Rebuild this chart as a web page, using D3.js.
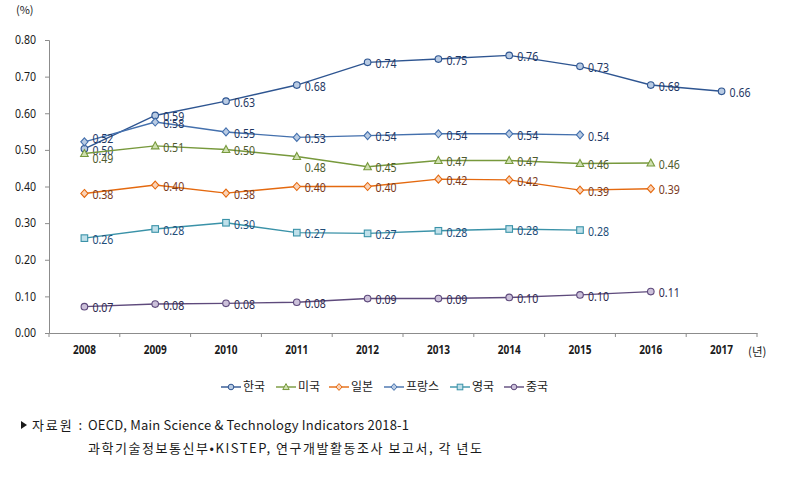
<!DOCTYPE html>
<html><head><meta charset="utf-8">
<script src="https://cdn.jsdelivr.net/npm/d3@7"></script>
<style>
body{margin:0;background:#fff;}
svg{display:block;font-family:"Noto Sans CJK KR","Noto Sans",sans-serif;}
</style></head>
<body><svg id="c" width="791" height="483"></svg>
<script>
const years = ["2008","2009","2010","2011","2012","2013","2014","2015","2016","2017"];
const yTicks = [0,0.1,0.2,0.3,0.4,0.5,0.6,0.7,0.8];
const seriesNames = ["한국","미국","일본","프랑스","영국","중국"];
const korea  = [0.503,0.594,0.633,0.677,0.739,0.748,0.758,0.728,0.677,0.660];
const usa    = [0.490,0.511,0.501,0.482,0.454,0.471,0.471,0.463,0.464,null];
const japan  = [0.381,0.404,0.382,0.400,0.400,0.420,0.418,0.390,0.394,null];
const france = [0.522,0.576,0.549,0.534,0.539,0.544,0.544,0.541,null,null];
const uk     = [0.259,0.284,0.301,0.274,0.272,0.279,0.284,0.281,null,null];
const china  = [0.072,0.079,0.081,0.084,0.094,0.094,0.097,0.104,0.113,null];
const sourceLabel = "자료원 :";
const sourceLines = ["OECD, Main Science & Technology Indicators 2018-1","과학기술정보통신부•KISTEP, 연구개발활동조사 보고서, 각 년도"];

const styles = [
  {vals:korea,  line:"#2E5591", fill:"#B9CBE3", text:"#1F3864", shape:"circle"},
  {vals:usa,    line:"#77993C", fill:"#CFE0B0", text:"#4F5B2E", shape:"triangle"},
  {vals:japan,  line:"#E4690F", fill:"#FAD3B8", text:"#7A3A1C", shape:"diamond"},
  {vals:france, line:"#4470AD", fill:"#B9CBE3", text:"#1F3864", shape:"diamond"},
  {vals:uk,     line:"#3A92A8", fill:"#BFE0EA", text:"#1F4E79", shape:"square"},
  {vals:china,  line:"#5E4A7C", fill:"#CCC1DA", text:"#2E2A4F", shape:"circle"}
];
const labelAdj = {"3-0":[0,-5],"1-3":[0,10],"1-0":[0,4]};
const numFont = "'Noto Sans',sans-serif";

const svg = d3.select("#c");
const x = d3.scaleBand().domain(years).range([49,757]).padding(0);
const cx = d => x(d) + x.bandwidth()/2;
const y = d3.scaleLinear().domain([0,0.8]).range([333,40]);
const axisColor = "#8C8C8C";

// y axis
const ya = svg.append("g").attr("transform","translate(49,0)")
  .call(d3.axisLeft(y).tickValues(yTicks).tickFormat(d3.format(".2f")).tickSize(4).tickPadding(9));
ya.select(".domain").attr("stroke",axisColor);
ya.selectAll(".tick line").attr("stroke",axisColor);
ya.selectAll(".tick text").attr("font-size","12px").attr("fill","#1a1a1a").attr("font-family",numFont)
  .attr("textLength",21).attr("lengthAdjust","spacingAndGlyphs");

// x axis
const xa = svg.append("g").attr("transform","translate(0,333)")
  .call(d3.axisBottom(x).tickSize(0).tickPadding(13));
xa.select(".domain").attr("stroke",axisColor);
xa.selectAll(".tick text").attr("font-size","11.5px").attr("fill","#1a1a1a").attr("font-weight","bold").attr("font-family",numFont)
  .attr("textLength",23).attr("lengthAdjust","spacingAndGlyphs");
const bounds = years.map(d=>x(d)).concat([x(years[years.length-1])+x.bandwidth()]);
svg.append("g").selectAll("line").data(bounds).join("line")
  .attr("x1",d=>d).attr("x2",d=>d).attr("y1",333).attr("y2",337).attr("stroke",axisColor);

svg.append("text").attr("x",16).attr("y",14).attr("font-size","11px").attr("fill","#1a1a1a").text("(%)");
svg.append("text").attr("x",748).attr("y",356).attr("font-size","11.5px").attr("fill","#1a1a1a").text("(년)");

function marker(g, shape, px, py, s){
  s = s || 1;
  if(shape==="circle") g.append("circle").attr("cx",px).attr("cy",py).attr("r",3.3*s);
  else if(shape==="diamond") g.append("path").attr("d",`M${px},${py-4*s}L${px+3.6*s},${py}L${px},${py+4*s}L${px-3.6*s},${py}Z`);
  else if(shape==="square") g.append("rect").attr("x",px-3.3*s).attr("y",py-3.3*s).attr("width",6.6*s).attr("height",6.6*s);
  else if(shape==="triangle") g.append("path").attr("d",`M${px},${py-4*s}L${px+3.8*s},${py+3*s}L${px-3.8*s},${py+3*s}Z`);
}

styles.forEach((st,si)=>{
  const pts = years.map((yr,i)=>({yr,v:st.vals[i],i})).filter(p=>p.v!=null);
  const g = svg.append("g");
  g.append("path").datum(pts)
    .attr("d",d3.line().x(p=>cx(p.yr)).y(p=>y(p.v)))
    .attr("fill","none").attr("stroke",st.line).attr("stroke-width",1.4);
  const mg = g.append("g").attr("fill",st.fill).attr("stroke",st.line).attr("stroke-width",1.1);
  pts.forEach(p=>marker(mg, st.shape, cx(p.yr), y(p.v)));
  pts.forEach(p=>{
    const adj = labelAdj[si+"-"+p.i] || [0,0];
    g.append("text").attr("x",cx(p.yr)+8+adj[0]).attr("y",y(p.v)+1+adj[1])
      .attr("dy","0.36em").attr("font-size","13.2px").attr("fill",st.text)
      .attr("font-family",numFont)
      .attr("textLength",21).attr("lengthAdjust","spacingAndGlyphs")
      .text(d3.format(".2f")(p.v));
  });
});

// legend
const legX = [222,277,330,385,451,505];
const lg = svg.append("g");
seriesNames.forEach((n,i)=>{
  const st = styles[i];
  const lx = legX[i], ly = 387;
  lg.append("line").attr("x1",lx-1).attr("x2",lx+19).attr("y1",ly).attr("y2",ly).attr("stroke",st.line).attr("stroke-width",1.4);
  const mg = lg.append("g").attr("fill",st.fill).attr("stroke",st.line).attr("stroke-width",1);
  marker(mg, st.shape, lx+9, ly, 0.85);
  lg.append("text").attr("x",lx+21).attr("y",ly).attr("dy","0.36em").attr("font-size","12px").attr("fill","#1a1a1a").text(n);
});

// source
svg.append("path").attr("d","M21,421L27,425L21,429Z").attr("fill","#1a1a1a");
svg.append("text").attr("x",32).attr("y",430).attr("font-size","13px").attr("fill","#1a1a1a")
  .attr("textLength",50).attr("lengthAdjust","spacing").text(sourceLabel);
svg.append("text").attr("x",88).attr("y",430).attr("font-size","13px").attr("fill","#1a1a1a")
  .attr("textLength",321).attr("lengthAdjust","spacing").text(sourceLines[0]);
svg.append("text").attr("x",88).attr("y",453).attr("font-size","13px").attr("fill","#1a1a1a")
  .attr("textLength",394).attr("lengthAdjust","spacing").text(sourceLines[1]);
</script>
</body></html>
